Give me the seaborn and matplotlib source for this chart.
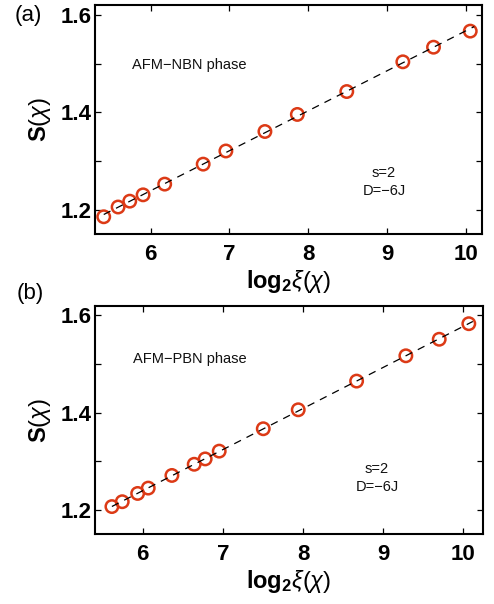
import numpy as np
import matplotlib
matplotlib.use("Agg")
import matplotlib.pyplot as plt
import seaborn as sns

# Entanglement entropy S(chi) against log2 of the correlation length xi(chi)
nbn_x = [5.407, 5.589, 5.737, 5.906, 6.18, 6.668, 6.956, 7.451, 7.862, 8.489, 9.20, 9.589, 10.055]
nbn_s = [1.186, 1.206, 1.218, 1.231, 1.253, 1.294, 1.321, 1.361, 1.396, 1.443, 1.504, 1.534, 1.567]

pbn_x = [5.617, 5.746, 5.938, 6.07, 6.365, 6.643, 6.78, 6.955, 7.504, 7.94, 8.668, 9.282, 9.698, 10.067]
pbn_s = [1.207, 1.217, 1.234, 1.245, 1.271, 1.294, 1.305, 1.321, 1.367, 1.406, 1.465, 1.517, 1.551, 1.583]

panel_tags = ["(a)", "(b)"]
phase_names = ["AFM\u2212NBN phase", "AFM\u2212PBN phase"]
param_text = "s=2\nD=\u22126J"
x_ticks = [6, 7, 8, 9, 10]
y_ticks = [1.2, 1.3, 1.4, 1.5, 1.6]
y_ticklabels = ["1.2", "", "1.4", "", "1.6"]

sns.set_theme(style="ticks")
plt.rcParams["font.family"] = ["Liberation Sans", "DejaVu Sans"]
plt.rcParams["mathtext.fontset"] = "custom"
plt.rcParams["mathtext.rm"] = "Liberation Sans"
plt.rcParams["mathtext.it"] = "Liberation Sans:italic"
plt.rcParams["mathtext.bf"] = "Liberation Sans:bold"

ring = "#dc3a16"

fig = plt.figure(figsize=(4.94, 6.04), dpi=100)
rects = [
    [95.3 / 494, 1 - 234.3 / 604, (481.7 - 95.3) / 494, (234.3 - 5.3) / 604],
    [95.3 / 494, 1 - 534.3 / 604, (482.7 - 95.3) / 494, (534.3 - 305.7) / 604],
]
xlims = [(5.30, 10.20), (5.41, 10.24)]
phase_pos = [(5.76, 1.497), (5.88, 1.51)]
param_pos = [(8.96, 1.258), (8.92, 1.266)]
tag_pos = [(15 / 494, 1 - 16 / 604), (17 / 494, 1 - 294 / 604)]

for i, (xs, ss) in enumerate([(nbn_x, nbn_s), (pbn_x, pbn_s)]):
    ax = fig.add_axes(rects[i])
    xs = np.asarray(xs)
    ss = np.asarray(ss)

    sns.scatterplot(x=xs, y=ss, ax=ax, marker="o", s=80, facecolor="none",
                    edgecolor=ring, linewidth=1.8, zorder=2)

    # linear fit of S against log2(xi)
    slope, icpt = np.polyfit(xs, ss, 1)
    xf = np.array([xs.min(), xs.max() + 0.05])
    sns.lineplot(x=xf, y=slope * xf + icpt, ax=ax, color="black", lw=0.9,
                 linestyle=(0, (6, 5)), zorder=3)

    ax.set_xlim(*xlims[i])
    ax.set_ylim(1.15, 1.62)
    ax.set_xticks(x_ticks)
    ax.set_xticklabels([str(t) for t in x_ticks], fontsize=16, fontweight="bold")
    ax.set_yticks(y_ticks)
    ax.set_yticklabels(y_ticklabels, fontsize=16, fontweight="bold")
    ax.tick_params(axis="both", direction="in", length=4, width=0.9,
                   color="black", labelcolor="black", top=True, right=True)
    ax.tick_params(axis="x", pad=7)
    ax.tick_params(axis="y", pad=3)
    for sp in ax.spines.values():
        sp.set_visible(True)
        sp.set_linewidth(1.5)
        sp.set_color("black")

    ax.set_xlabel(r"$\mathbf{log_2}\xi(\chi)$", fontsize=17, labelpad=2,
                  color="black")
    ax.set_ylabel(r"$\mathbf{S}(\chi)$", fontsize=17, labelpad=5, color="black")

    ax.text(*phase_pos[i], phase_names[i], fontsize=10.5, ha="left", va="center",
            color="#111111")
    ax.text(*param_pos[i], param_text, fontsize=10.5, ha="center", va="center",
            linespacing=1.35, color="#111111")
    fig.text(*tag_pos[i], panel_tags[i], fontsize=16, ha="left", va="center",
             color="black")

fig.savefig("out.png", dpi=100)
